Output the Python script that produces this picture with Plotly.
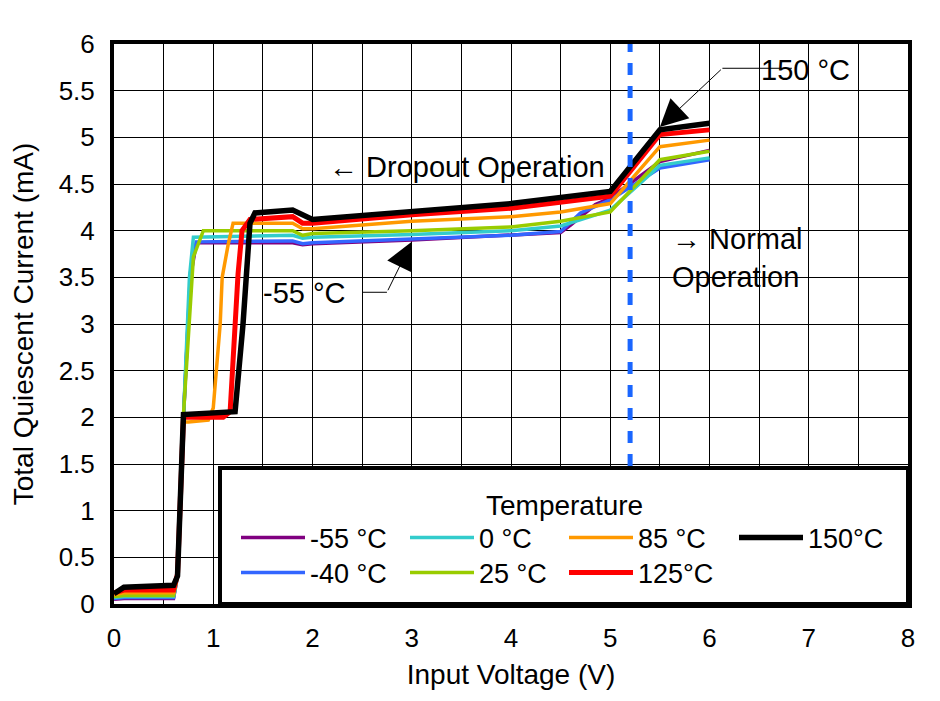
import plotly.graph_objects as go

# ---------------- data ----------------
V_M55 = [0, 0.1, 0.6, 0.64, 0.7, 0.77, 0.83, 1.8, 1.9, 2.0, 3.0, 4.0, 4.5, 4.6, 4.85, 5.0, 5.5, 6.0]
I_M55 = [0.05, 0.06, 0.06, 0.3, 2.0, 3.5, 3.87, 3.87, 3.85, 3.86, 3.9, 3.95, 3.98, 4.06, 4.28, 4.35, 4.74, 4.86]

V_M40 = [0, 0.1, 0.6, 0.64, 0.7, 0.77, 0.83, 1.8, 1.9, 2.0, 3.0, 4.0, 4.5, 4.7, 5.0, 5.5, 6.0]
I_M40 = [0.06, 0.07, 0.07, 0.3, 2.0, 3.55, 3.88, 3.89, 3.86, 3.87, 3.91, 3.95, 3.99, 4.19, 4.33, 4.67, 4.76]

V_0 = [0, 0.1, 0.6, 0.64, 0.7, 0.76, 0.8, 1.8, 1.9, 2.0, 3.0, 4.0, 4.5, 5.0, 5.5, 6.0]
I_0 = [0.07, 0.08, 0.08, 0.3, 2.0, 3.5, 3.93, 3.95, 3.92, 3.93, 3.96, 4.0, 4.05, 4.22, 4.7, 4.78]

V_25 = [0, 0.1, 0.6, 0.64, 0.7, 0.8, 0.9, 1.8, 1.9, 2.0, 3.0, 4.0, 4.5, 5.0, 5.5, 6.0]
I_25 = [0.08, 0.09, 0.09, 0.3, 2.03, 3.72, 4.0, 4.0, 3.95, 3.97, 4.0, 4.04, 4.1, 4.2, 4.76, 4.85]

V_85 = [0, 0.1, 0.6, 0.64, 0.7, 0.75, 0.95, 1.0, 1.07, 1.09, 1.15, 1.2, 1.8, 1.9, 2.0, 3.0, 4.0, 4.5, 5.0, 5.5, 6.0]
I_85 = [0.1, 0.12, 0.12, 0.3, 1.95, 1.95, 1.97, 2.1, 3.0, 3.5, 3.85, 4.08, 4.08, 4.02, 4.02, 4.1, 4.15, 4.2, 4.29, 4.9, 4.97]

V_125 = [0, 0.1, 0.6, 0.64, 0.7, 1.1, 1.17, 1.2, 1.25, 1.29, 1.37, 1.8, 1.9, 2.0, 3.0, 4.0, 5.0, 5.5, 6.0]
I_125 = [0.12, 0.15, 0.15, 0.32, 2.0, 2.0, 2.06, 2.65, 3.54, 4.0, 4.12, 4.15, 4.08, 4.08, 4.17, 4.24, 4.37, 5.03, 5.08]

V_150 = [0, 0.1, 0.6, 0.64, 0.7, 1.15, 1.22, 1.3, 1.37, 1.42, 1.8, 2.0, 3.0, 4.0, 5.0, 5.5, 6.0]
I_150 = [0.11, 0.18, 0.2, 0.3, 2.03, 2.05, 2.06, 3.0, 4.08, 4.19, 4.22, 4.12, 4.21, 4.29, 4.42, 5.08, 5.15]

SERIES_NAMES = ["-55 °C", "-40 °C", "0 °C", "25 °C", "85 °C", "125°C", "150°C"]
SERIES_V = [V_M55, V_M40, V_0, V_25, V_85, V_125, V_150]
SERIES_I = [I_M55, I_M40, I_0, I_25, I_85, I_125, I_150]

V_DROPOUT_BOUNDARY = 5.2
X_TICKS = [0, 1, 2, 3, 4, 5, 6, 7, 8]
Y_TICKS = [0, 0.5, 1, 1.5, 2, 2.5, 3, 3.5, 4, 4.5, 5, 5.5, 6]

# ---------------- styling ----------------
COLORS = ["#800080", "#3366ff", "#33cccc", "#99cc00", "#ff9900", "#ff0000", "#000000"]
WIDTHS = [3.5, 3.5, 3.5, 3.5, 3.5, 5, 5.5]
LEG_ROW = [0, 1, 0, 1, 0, 1, 0]
LEG_COL = [0, 0, 1, 1, 2, 2, 3]
COL_PX = [241, 410, 569, 739]
ROW_PX = [538, 573]

FONT = "Liberation Sans, Arial, sans-serif"
W, H = 940, 701
PAGE_OFFSET = 8  # browser default body margin
ML, MR, MT, MB = 114, 32, 44, 97
PW, PH = W - ML - MR, H - MT - MB


def pxx(px):
    return (px - ML) / PW


def pxy(py):
    return (H - MB - py) / PH


fig = go.Figure()
for k, (name, v, i) in enumerate(zip(SERIES_NAMES, SERIES_V, SERIES_I)):
    fig.add_trace(go.Scatter(
        x=v, y=i, mode="lines", name=name,
        line=dict(color=COLORS[k], width=WIDTHS[k]),
        legend="legend" if k == 0 else f"legend{k+1}",
    ))

fig.add_trace(go.Scatter(
    x=[V_DROPOUT_BOUNDARY, V_DROPOUT_BOUNDARY], y=[0, 6], mode="lines",
    line=dict(color="#1a66ff", width=5, dash="12px,11px"), showlegend=False,
))

legends = {}
for k in range(len(SERIES_NAMES)):
    key = "legend" if k == 0 else f"legend{k+1}"
    legends[key] = dict(
        x=pxx(COL_PX[LEG_COL[k]] - 5), y=pxy(ROW_PX[LEG_ROW[k]]),
        xanchor="left", yanchor="middle", bgcolor="rgba(0,0,0,0)",
        borderwidth=0, font=dict(family=FONT, size=27, color="black"),
        itemwidth=64,
    )

ann_font = dict(family=FONT, size=29, color="black")
annotations = [
    dict(x=2.146, y=4.68, xref="x", yref="y", text="← Dropout Operation",
         showarrow=False, xanchor="left", yanchor="middle", font=ann_font),
    dict(x=5.6, y=3.71, xref="x", yref="y", text="→ Normal<br>Operation",
         showarrow=False, xanchor="left", yanchor="middle", align="left", font=ann_font),
    dict(x=1.92, y=3.33, xref="x", yref="y", text="-55 °C",
         showarrow=False, xanchor="center", yanchor="middle", font=ann_font),
    dict(x=6.97, y=5.72, xref="x", yref="y", text="150 °C",
         showarrow=False, xanchor="center", yanchor="middle", font=ann_font),
    # arrows
    dict(x=3.0, y=3.88, xref="x", yref="y", ax=2.75, ay=3.34, axref="x", ayref="y",
         text=" ", font=dict(size=1), showarrow=True, arrowhead=2, arrowsize=5.5,
         arrowwidth=1, arrowcolor="black"),
    dict(x=5.5, y=5.11, xref="x", yref="y", ax=6.13, ay=5.74, axref="x", ayref="y",
         text=" ", font=dict(size=1), showarrow=True, arrowhead=2, arrowsize=5.5,
         arrowwidth=1, arrowcolor="black"),
    dict(x=pxx(564), y=pxy(505), xref="paper", yref="paper", text="Temperature",
         showarrow=False, xanchor="center", yanchor="middle",
         font=dict(family=FONT, size=28, color="black")),
]

shapes = [
    dict(type="line", xref="x", yref="y", x0=2.5, x1=2.75, y0=3.34, y1=3.34,
         line=dict(color="black", width=1)),
    dict(type="line", xref="x", yref="y", x0=6.13, x1=6.83, y0=5.74, y1=5.74,
         line=dict(color="black", width=1)),
    dict(type="rect", xref="paper", yref="paper", x0=pxx(220), x1=1, y0=0, y1=pxy(468),
         fillcolor="white", line=dict(color="black", width=4), layer="above"),
]

axis_common = dict(
    showgrid=True, gridcolor="black", gridwidth=1,
    showline=True, linecolor="black", linewidth=4, mirror=True,
    zeroline=False, ticks="", automargin=False,
    tickfont=dict(family=FONT, size=26, color="black"),
)

fig.update_layout(
    width=W, height=H,
    margin=dict(l=ML - PAGE_OFFSET, r=MR + PAGE_OFFSET,
                t=MT - PAGE_OFFSET, b=MB + PAGE_OFFSET),
    plot_bgcolor="white", paper_bgcolor="white",
    xaxis=dict(range=[0, 8], tickvals=X_TICKS,
               minor=dict(dtick=0.5, showgrid=True, gridcolor="black", gridwidth=1),
               ticklabelstandoff=8,
               title=dict(text="Input Voltage (V)", standoff=13,
                          font=dict(family=FONT, size=28, color="black")),
               **axis_common),
    yaxis=dict(range=[0, 6], tickvals=Y_TICKS, ticklabelstandoff=10,
               title=dict(text="Total Quiescent Current (mA)", standoff=18,
                          font=dict(family=FONT, size=28, color="black")),
               **axis_common),
    annotations=annotations, shapes=shapes,
    showlegend=True,
    **legends,
)

fig.write_html("out.html")
